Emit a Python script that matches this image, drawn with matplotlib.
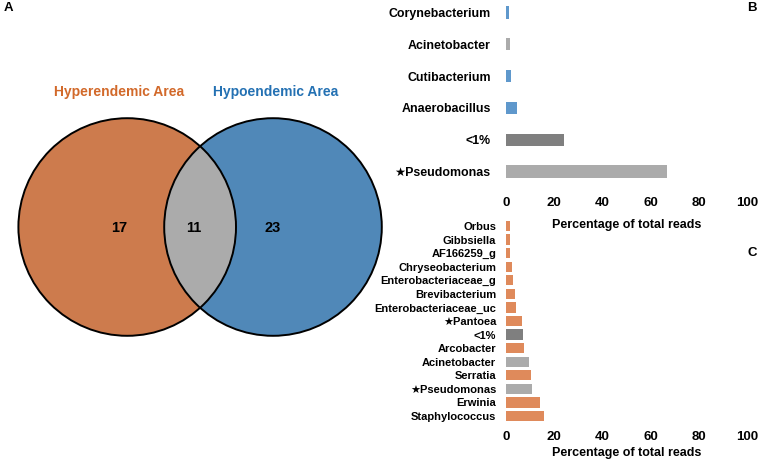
import numpy as np
import matplotlib
matplotlib.use('Agg')
import matplotlib.pyplot as plt
from matplotlib.patches import Circle

plt.rcParams['font.family'] = ['Liberation Sans', 'DejaVu Sans']
plt.rcParams['font.weight'] = 'bold'

# Venn counts: hyperendemic only, shared, hypoendemic only
venn_counts = [17, 11, 23]
venn_titles = ['Hyperendemic Area', 'Hypoendemic Area']

# Panel B (bottom to top)
b_labels = ['\u2605Pseudomonas', '<1%', 'Anaerobacillus', 'Cutibacterium',
            'Acinetobacter', 'Corynebacterium']
b_values = [66.8, 24.1, 4.5, 1.9, 1.5, 1.1]
b_groups = ['shared', 'other', 'hypo', 'hypo', 'shared', 'hypo']

# Panel C (bottom to top)
c_labels = ['Staphylococcus', 'Erwinia', '\u2605Pseudomonas', 'Serratia',
            'Acinetobacter', 'Arcobacter', '<1%', '\u2605Pantoea',
            'Enterobacteriaceae_uc', 'Brevibacterium', 'Enterobacteriaceae_g',
            'Chryseobacterium', 'AF166259_g', 'Gibbsiella', 'Orbus']
c_values = [15.6, 14.2, 10.7, 10.2, 9.6, 7.3, 7.2, 6.5, 4.1, 3.6, 3.0,
            2.6, 1.8, 1.6, 1.5]
c_groups = ['hyper', 'hyper', 'shared', 'hyper', 'shared', 'hyper', 'other',
            'hyper', 'hyper', 'hyper', 'hyper', 'hyper', 'hyper', 'hyper', 'hyper']

x_ticks = [0, 20, 40, 60, 80, 100]

colors = {'hyper': '#DF8A5B', 'hypo': '#5F98CC', 'shared': '#ABABAB', 'other': '#7F7F7F'}

W, H = 758, 459
fig = plt.figure(figsize=(W / 100, H / 100), dpi=100)


def px_axes(x0, y0, x1, y1):
    # axes from pixel box (top-left origin)
    return fig.add_axes([x0 / W, 1 - y1 / H, (x1 - x0) / W, (y1 - y0) / H])


# ---- Panel A: Venn ----
ax = fig.add_axes([0, 0, 1, 1])
ax.set_xlim(0, W)
ax.set_ylim(H, 0)
ax.axis('off')
r = 108.8
cl = (127.2, 227)
cr = (273.0, 227)
ax.add_patch(Circle(cl, r, facecolor='#CD7B4D', edgecolor='none', zorder=1))
ax.add_patch(Circle(cr, r, facecolor='#5088B8', edgecolor='none', zorder=1))
# grey overlap = right circle clipped to the left one
lens = Circle(cr, r, facecolor='#ABABAB', edgecolor='none', zorder=2)
ax.add_patch(lens)
clip = Circle(cl, r, transform=ax.transData, facecolor='none', edgecolor='none')
ax.add_patch(clip)
lens.set_clip_path(clip)
for c in (cl, cr):
    ax.add_patch(Circle(c, r, facecolor='none', edgecolor='black', linewidth=1.4, zorder=3))
for x, n in zip([119, 194, 273], venn_counts):
    ax.text(x, 228, str(n), ha='center', va='center', fontsize=10.5, fontweight='bold', zorder=4)
ax.text(119, 92, venn_titles[0], ha='center', va='center', fontsize=10,
        fontweight='bold', color='#D2692A')
ax.text(276, 92, venn_titles[1], ha='center', va='center', fontsize=10,
        fontweight='bold', color='#2471B3')
ax.text(8, 8, 'A', ha='center', va='center', fontsize=9.5, fontweight='bold')
ax.text(752, 8, 'B', ha='center', va='center', fontsize=9.5, fontweight='bold')
ax.text(752, 253, 'C', ha='center', va='center', fontsize=9.5, fontweight='bold')


def bar_panel(axb, labels, values, groups, ylim, height, label_size, pad, tick_pad, label_pad):
    y = np.arange(len(labels))
    axb.barh(y, values, height=height, color=[colors[g] for g in groups])
    axb.set_xlim(0, 100)
    axb.set_ylim(*ylim)
    axb.set_yticks(y)
    axb.set_yticklabels(labels, fontsize=label_size, fontweight='bold')
    axb.set_xticks(x_ticks)
    axb.set_xticklabels([str(t) for t in x_ticks], fontsize=9.5, fontweight='bold')
    axb.tick_params(axis='y', length=0, pad=pad)
    axb.tick_params(axis='x', length=0, pad=tick_pad)
    for s in axb.spines.values():
        s.set_visible(False)
    axb.patch.set_alpha(0)
    axb.set_xlabel('Percentage of total reads', fontsize=9, fontweight='bold', labelpad=label_pad)


# ---- Panel B ----
axb = px_axes(506, 0, 747, 190)
bar_panel(axb, b_labels, b_values, b_groups, (-0.574, 5.386), 0.39, 8.9, 11, 5, 7.5)

# ---- Panel C ----
axc = px_axes(506, 218, 747, 428)
bar_panel(axc, c_labels, c_values, c_groups, (-0.884, 14.59), 0.76, 8.0, 7, 2.5, 2.5)

plt.savefig('out.png', dpi=100)
